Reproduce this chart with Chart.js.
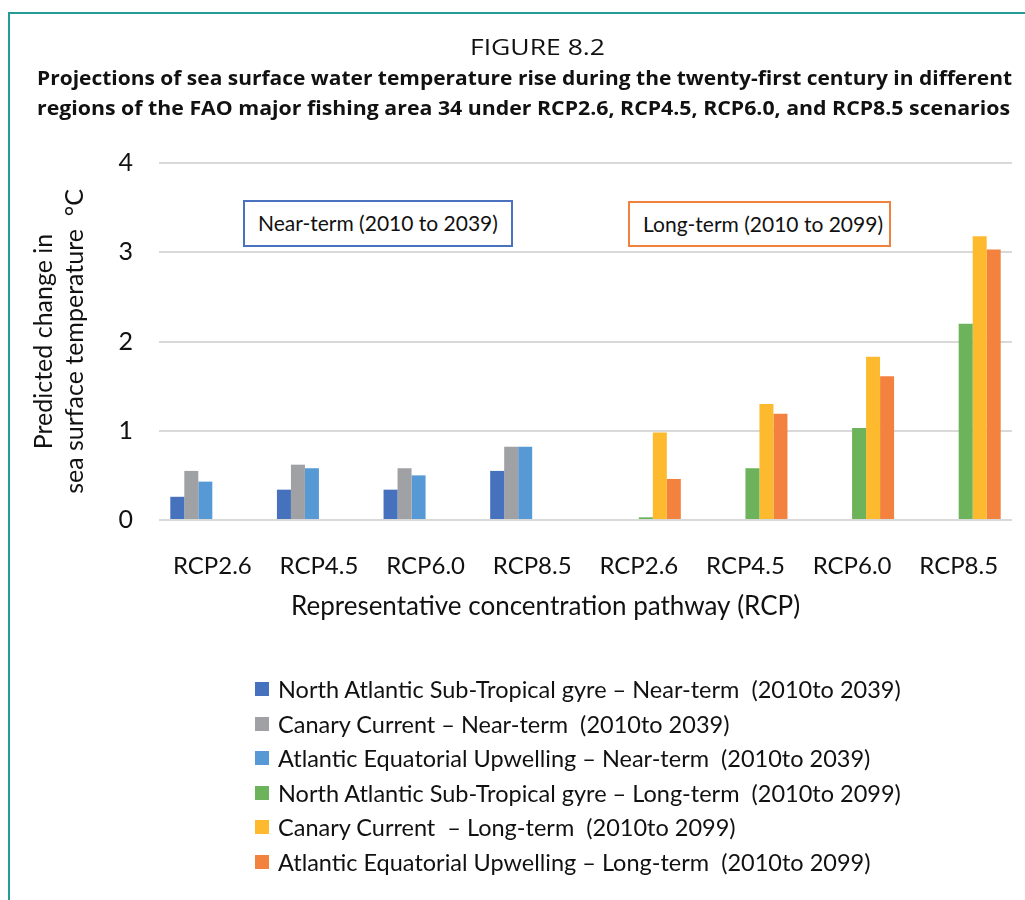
<!DOCTYPE html>
<html>
<head>
<meta charset="utf-8">
<script src="https://cdn.jsdelivr.net/npm/chart.js@4"></script>
<style>
  body { margin: 0; background: #fff; }
  #page { position: relative; width: 1025px; height: 900px; overflow: hidden; font-family: Lato, sans-serif; }
  #frame { position: absolute; left: 8px; top: 12px; width: 1100px; height: 1000px;
           border-top: 2px solid #259b96; border-left: 2px solid #259b96; }
  #chartBox { position: absolute; left: 0; top: 0; width: 1025px; height: 900px; }
  .fit { position: absolute; white-space: pre; transform-origin: left top; color: #111; }
  #figNo { font-family: "Open Sans", sans-serif; font-size: 21px; }
  .head { font-family: "Open Sans", sans-serif; font-weight: bold; font-size: 20px; }
  .note { position: absolute; box-sizing: border-box; background: #fff; font-size: 21px;
          color: #111; line-height: 42px; padding-left: 13px; white-space: pre; }
  #legend { position: absolute; left: 255px; top: 672px; font-size: 23.5px; color: #111; }
  #legend div { height: 34.5px; line-height: 34.5px; white-space: pre; position: relative; padding-left: 23px; }
  #legend span { position: absolute; left: 0; top: 10px; width: 14px; height: 14px; }
</style>
</head>
<body>
<div id="page">
  <div id="frame"></div>
  <div id="chartBox"><canvas id="chart"></canvas></div>
  <div class="fit" id="figNo" data-w="135" data-x="470" style="top:33px">FIGURE 8.2</div>
  <div class="fit head" data-w="975" data-x="37" style="top:64px">Projections of sea surface water temperature rise during the twenty-first century in different</div>
  <div class="fit head" data-w="973" data-x="37" style="top:94px">regions of the FAO major fishing area 34 under RCP2.6, RCP4.5, RCP6.0, and RCP8.5 scenarios</div>
  <div class="note" style="left:243px;top:200px;width:270px;height:47px;border:2px solid #4a72c0">Near-term (2010 to 2039)</div>
  <div class="note" style="left:628px;top:201px;width:263px;height:46px;border:2px solid #f0823e">Long-term (2010 to 2099)</div>
  <div id="legend"></div>
</div>
<script>
// categories and tick labels
const categories = ['RCP2.6', 'RCP4.5', 'RCP6.0', 'RCP8.5', 'RCP2.6', 'RCP4.5', 'RCP6.0', 'RCP8.5'];
const yTicks = [0, 1, 2, 3, 4];

// near-term series (first four groups)
const gyreNear   = [0.26, 0.34, 0.34, 0.55, null, null, null, null];
const canaryNear = [0.55, 0.62, 0.58, 0.82, null, null, null, null];
const upwellNear = [0.43, 0.58, 0.50, 0.82, null, null, null, null];
// long-term series (last four groups)
const gyreLong   = [null, null, null, null, 0.03, 0.58, 1.03, 2.20];
const canaryLong = [null, null, null, null, 0.98, 1.30, 1.83, 3.18];
const upwellLong = [null, null, null, null, 0.46, 1.19, 1.61, 3.03];

const seriesNames = [
  'North Atlantic Sub-Tropical gyre \u2013 Near-term  (2010to 2039)',
  'Canary Current \u2013 Near-term  (2010to 2039)',
  'Atlantic Equatorial Upwelling \u2013 Near-term  (2010to 2039)',
  'North Atlantic Sub-Tropical gyre \u2013 Long-term  (2010to 2099)',
  'Canary Current  \u2013 Long-term  (2010to 2099)',
  'Atlantic Equatorial Upwelling \u2013 Long-term  (2010to 2099)'
];
const seriesColors = ['#4671bd', '#a0a1a5', '#5799d4', '#6db35b', '#fdba2e', '#f2823d'];
const seriesData = [gyreNear, canaryNear, upwellNear, gyreLong, canaryLong, upwellLong];

// squeeze the heading lines to the widths seen in the figure
document.querySelectorAll('.fit').forEach(el => {
  const w = el.getBoundingClientRect().width;
  el.style.left = el.dataset.x + 'px';
  el.style.transform = 'scaleX(' + (el.dataset.w / w) + ')';
});

const font = { family: 'Lato, sans-serif', size: 24 };

const chart = new Chart(document.getElementById('chart'), {
  type: 'bar',
  data: {
    labels: categories,
    datasets: seriesData.map((d, i) => ({
      label: seriesNames[i],
      data: d,
      backgroundColor: seriesColors[i],
      borderWidth: 0,
      categoryPercentage: 0.788,
      barPercentage: 1
    }))
  },
  options: {
    responsive: true,
    maintainAspectRatio: false,
    animation: false,
    layout: { padding: { left: 12, right: 13, top: 163, bottom: 270 } },
    plugins: { legend: { display: false }, tooltip: { enabled: false } },
    scales: {
      x: {
        grid: { display: false },
        border: { display: false },
        ticks: { color: '#111', font: font, padding: 24 },
        // trailing spaces pull the centred title left, as in the figure
        title: { display: true, text: 'Representative concentration pathway (RCP)' + '\u00a0'.repeat(12), color: '#111',
                 font: { family: 'Lato, sans-serif', size: 26 }, padding: { top: 0, bottom: 8 } },
        afterFit: s => { s.height = 110; }
      },
      y: {
        min: 0, max: 4,
        afterBuildTicks: s => { s.ticks = yTicks.map(v => ({ value: v })); },
        grid: { color: '#d9d9d9', lineWidth: 2, drawTicks: false },
        border: { display: false },
        ticks: { color: '#111', font: { family: 'Lato, sans-serif', size: 25 }, padding: 26 },
        title: { display: true, text: ['Predicted change in', 'sea surface temperature  \u00b0C'], color: '#111',
                 font: { family: 'Lato, sans-serif', size: 25, lineHeight: 1.25 }, padding: { top: 16, bottom: 0 } },
        afterFit: s => { s.width = 147; }
      }
    }
  }
});

// legend as a single column under the chart
const legend = document.getElementById('legend');
chart.data.datasets.forEach(ds => {
  const row = document.createElement('div');
  const box = document.createElement('span');
  box.style.background = ds.backgroundColor;
  row.appendChild(box);
  row.appendChild(document.createTextNode(ds.label));
  legend.appendChild(row);
});
</script>
</body>
</html>
